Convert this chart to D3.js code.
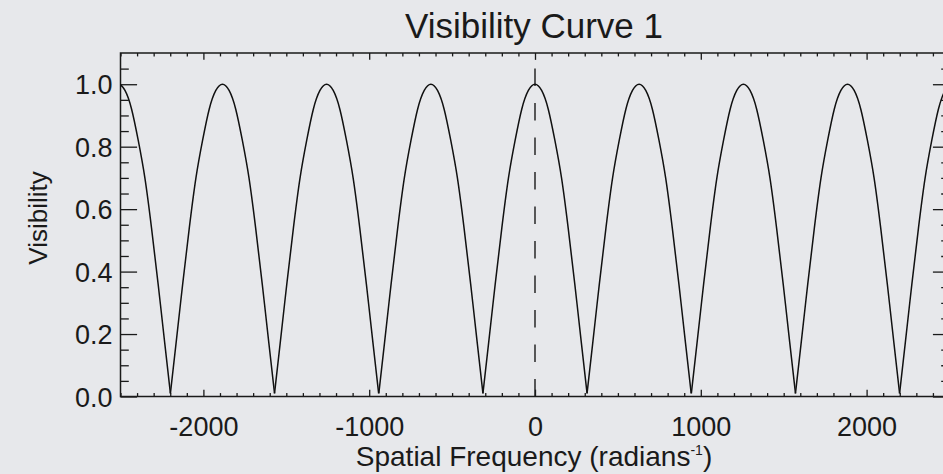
<!DOCTYPE html>
<html>
<head>
<meta charset="utf-8">
<script src="https://cdn.jsdelivr.net/npm/d3@7"></script>
<style>
  body { margin: 0; background: #e7e8eb; }
  svg { display: block; font-family: "Liberation Sans", Arial, Helvetica, sans-serif; }
</style>
</head>
<body>
<div class="chart"></div>
<script>
// peaks of the visibility curve (spatial frequency)
var peakFreq = [-2513, -1885, -1257, -628, 0, 628, 1257, 1885, 2513];
// shape of one arch: offset from its peak and the visibility there
var archOffset = [-314, -280, -240, -200, -160, -120, -80, -40, 0, 40, 80, 120, 160, 200, 240, 280, 314];
var archVis = [0.01, 0.17, 0.36, 0.54, 0.70, 0.82, 0.92, 0.98, 1.0, 0.98, 0.92, 0.82, 0.70, 0.54, 0.36, 0.17, 0.01];
var xTicks = [-2000, -1000, 0, 1000, 2000];
var yTicks = [0.0, 0.2, 0.4, 0.6, 0.8, 1.0];
var xMinor = [-2500, -2400, -2300, -2200, -2100, -1900, -1800, -1700, -1600, -1500, -1400, -1300, -1200, -1100,
              -900, -800, -700, -600, -500, -400, -300, -200, -100, 100, 200, 300, 400, 500, 600, 700, 800, 900,
              1100, 1200, 1300, 1400, 1500, 1600, 1700, 1800, 1900, 2100, 2200, 2300, 2400, 2500];
var yMinor = [0.05, 0.10, 0.15, 0.25, 0.30, 0.35, 0.45, 0.50, 0.55, 0.65, 0.70, 0.75, 0.85, 0.90, 0.95, 1.05];

var values = { width: 943, height: 474, left: 120.5, right: 949.5, top: 53, bottom: 396.5 };

var x = d3.scaleLinear().domain([-2500, 2500]).range([values.left, values.right]);
var y = d3.scaleLinear().domain([0, 1.1]).range([values.bottom, values.top]);

var svg = d3.select('.chart').append('svg')
    .attr('width', values.width)
    .attr('height', values.height);

svg.append('clipPath').attr('id', 'plot')
    .append('rect')
    .attr('x', values.left).attr('y', values.top)
    .attr('width', values.right - values.left)
    .attr('height', values.bottom - values.top);

var plotH = values.bottom - values.top, plotW = values.right - values.left;
var xMajLen = 0.02 * plotH, yMajLen = 0.02 * plotW;

function noLabel() { return ''; }

// bottom axis (labels) + minor; plain hyphen for the minus sign
var gB = svg.append('g').attr('transform', 'translate(0,' + values.bottom + ')');
gB.call(d3.axisBottom(x).tickValues(xTicks).tickSizeInner(-xMajLen).tickSizeOuter(0).tickPadding(20)
    .tickFormat(function (d) { return String(d); }));
gB.append('g').call(d3.axisBottom(x).tickValues(xMinor).tickSizeInner(-xMajLen / 2).tickSizeOuter(0).tickFormat(noLabel));
// top axis
var gT = svg.append('g').attr('transform', 'translate(0,' + values.top + ')');
gT.call(d3.axisTop(x).tickValues(xTicks).tickSizeInner(-xMajLen).tickSizeOuter(0).tickFormat(noLabel));
gT.append('g').call(d3.axisTop(x).tickValues(xMinor).tickSizeInner(-xMajLen / 2).tickSizeOuter(0).tickFormat(noLabel));
// left axis (labels)
var gL = svg.append('g').attr('transform', 'translate(' + values.left + ',0)');
gL.call(d3.axisLeft(y).tickValues(yTicks).tickSizeInner(-yMajLen).tickSizeOuter(0).tickPadding(8)
    .tickFormat(d3.format('.1f')));
gL.append('g').call(d3.axisLeft(y).tickValues(yMinor).tickSizeInner(-yMajLen / 2).tickSizeOuter(0).tickFormat(noLabel));
// right axis
var gR = svg.append('g').attr('transform', 'translate(' + values.right + ',0)');
gR.call(d3.axisRight(y).tickValues(yTicks).tickSizeInner(-yMajLen).tickSizeOuter(0).tickFormat(noLabel));
gR.append('g').call(d3.axisRight(y).tickValues(yMinor).tickSizeInner(-yMajLen / 2).tickSizeOuter(0).tickFormat(noLabel));

svg.selectAll('.domain').remove();
svg.selectAll('.tick line').attr('stroke', '#1a1a1a').attr('stroke-width', 1.3);
svg.selectAll('.tick text').attr('fill', '#1a1a1a').style('font-size', '27px');
gL.selectAll('.tick text').attr('dy', '0.36em');
gB.selectAll('.tick text').attr('dy', '0.72em');

// frame
svg.append('rect')
    .attr('x', values.left).attr('y', values.top)
    .attr('width', plotW).attr('height', plotH)
    .attr('fill', 'none').attr('stroke', '#1a1a1a').attr('stroke-width', 1.5);

// dashed line at zero frequency
svg.append('line')
    .attr('x1', x(0)).attr('x2', x(0))
    .attr('y1', y(0)).attr('y2', y(1.1))
    .attr('stroke', '#1a1a1a').attr('stroke-width', 1.4)
    .attr('stroke-dasharray', '17.5,17');

// the visibility curve, one arch at a time so the zeros stay sharp
var line = d3.line()
    .x(function (d) { return x(d.f); })
    .y(function (d) { return y(d.v); })
    .curve(d3.curveNatural);

var arches = peakFreq.map(function (p) {
  return archOffset.map(function (o, i) { return { f: p + o, v: archVis[i] }; });
});

svg.append('g').attr('clip-path', 'url(#plot)')
  .selectAll('path.arch')
  .data(arches)
  .enter().append('path')
    .attr('class', 'arch')
    .attr('d', line)
    .attr('fill', 'none')
    .attr('stroke', '#111')
    .attr('stroke-width', 1.5)
    .attr('stroke-linejoin', 'round');

// titles
svg.append('text')
    .attr('x', 534).attr('y', 38)
    .attr('text-anchor', 'middle')
    .style('font-size', '35px').attr('fill', '#1a1a1a')
    .text('Visibility Curve 1');

var xl = svg.append('text')
    .attr('x', 534).attr('y', 466)
    .attr('text-anchor', 'middle')
    .style('font-size', '28px').attr('fill', '#1a1a1a');
xl.append('tspan').text('Spatial Frequency (radians');
xl.append('tspan').attr('dy', -11).style('font-size', '14px').text('-1');
xl.append('tspan').attr('dy', 11).text(')');

svg.append('text')
    .attr('transform', 'translate(47,218) rotate(-90)')
    .attr('text-anchor', 'middle')
    .style('font-size', '26px').attr('fill', '#1a1a1a')
    .text('Visibility');
</script>
</body>
</html>
